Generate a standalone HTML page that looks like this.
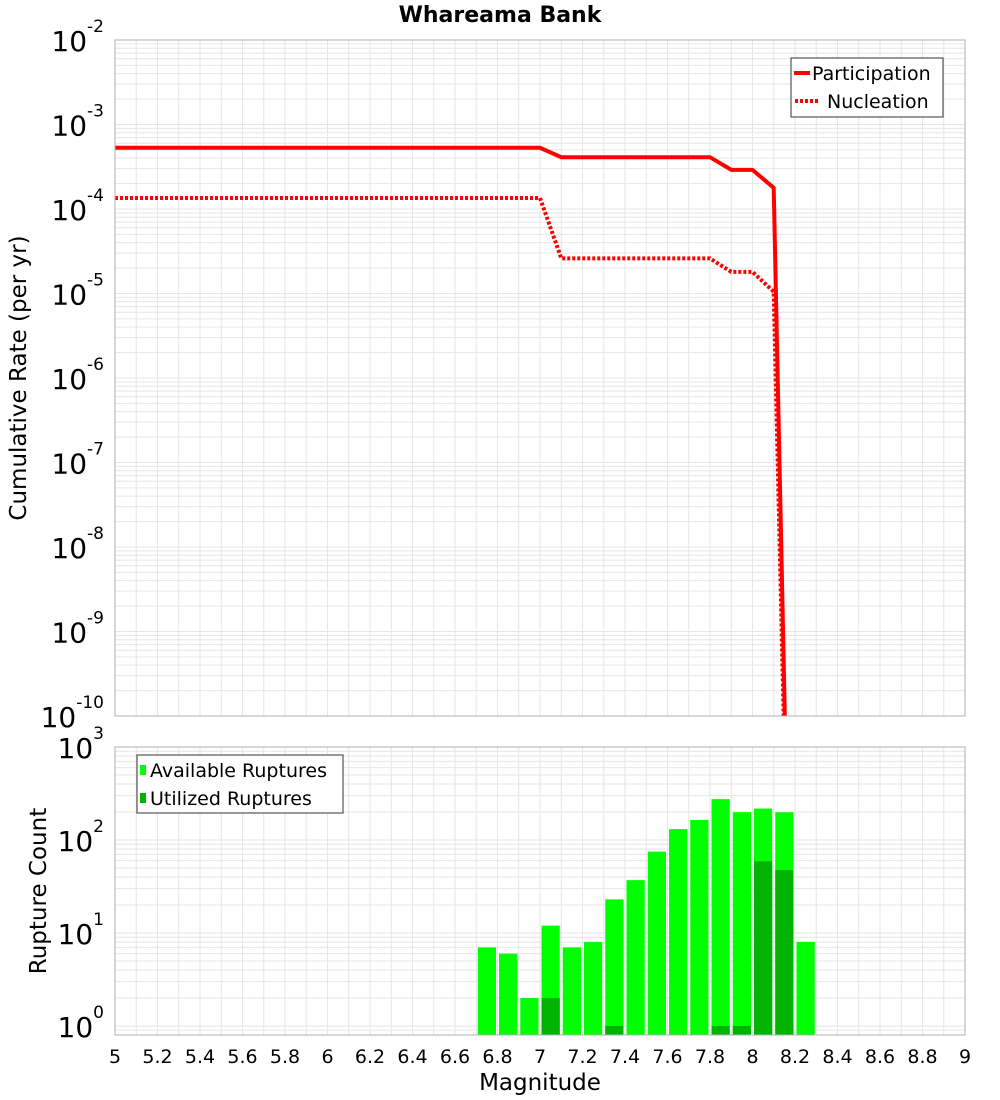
<!DOCTYPE html>
<html><head><meta charset="utf-8"><style>
html,body{margin:0;background:#fff;overflow:hidden;width:1000px;height:1100px;}
svg{display:block;font-family:"DejaVu Sans","Liberation Sans",sans-serif;}
</style></head><body>
<svg id="c" width="1000" height="1100" viewBox="0 0 1000 1100"></svg>
<script>
const mags=[5.0,5.1,5.2,5.3,5.4,5.5,5.6,5.7,5.8,5.9,6.0,6.1,6.2,6.3,6.4,6.5,6.6,6.7,6.8,6.9,7.0,7.1,7.2,7.3,7.4,7.5,7.6,7.7,7.8,7.9,8.0,8.1,8.2];
const participation=[5.3e-4,5.3e-4,5.3e-4,5.3e-4,5.3e-4,5.3e-4,5.3e-4,5.3e-4,5.3e-4,5.3e-4,5.3e-4,5.3e-4,5.3e-4,5.3e-4,5.3e-4,5.3e-4,5.3e-4,5.3e-4,5.3e-4,5.3e-4,5.3e-4,4.1e-4,4.1e-4,4.1e-4,4.1e-4,4.1e-4,4.1e-4,4.1e-4,4.1e-4,2.9e-4,2.9e-4,1.78e-4,2e-16];
const nucleation=[1.35e-4,1.35e-4,1.35e-4,1.35e-4,1.35e-4,1.35e-4,1.35e-4,1.35e-4,1.35e-4,1.35e-4,1.35e-4,1.35e-4,1.35e-4,1.35e-4,1.35e-4,1.35e-4,1.35e-4,1.35e-4,1.35e-4,1.35e-4,1.35e-4,2.6e-5,2.6e-5,2.6e-5,2.6e-5,2.6e-5,2.6e-5,2.6e-5,2.6e-5,1.8e-5,1.8e-5,1.05e-5,2e-16];
const binCenters=[6.75,6.85,6.95,7.05,7.15,7.25,7.35,7.45,7.55,7.65,7.75,7.85,7.95,8.05,8.15,8.25];
const available=[7,6,2,12,7,8,23,37,75,131,164,275,199,218,199,8];
const utilized=[0,0,0,2,0,0,1,0,0,0,0,1,1,59,47.5,0];
const xTicks=[5,5.2,5.4,5.6,5.8,6,6.2,6.4,6.6,6.8,7,7.2,7.4,7.6,7.8,8,8.2,8.4,8.6,8.8,9];
const topExps=[-2,-3,-4,-5,-6,-7,-8,-9,-10];
const botExps=[3,2,1,0];

const NS="http://www.w3.org/2000/svg";
const svg=document.getElementById('c');
function el(tag,attrs,parent,name,inter){const e=document.createElementNS(NS,tag);for(const k in attrs)e.setAttribute(k,attrs[k]);if(name){}(parent||svg).appendChild(e);return e;}
const X0=115,X1=965;
const xs=m=>X0+(m-5)/(9-5)*(X1-X0);
const T0=40,T1=716;
const yt=v=>T0+(-2-Math.log10(v))*(T1-T0)/8;
const B0=747,B1=1035;
const yb=v=>1026-Math.log10(v)*93;

const defs=el('defs',{});
const cp1=el('clipPath',{id:'cpt'},defs);el('rect',{x:X0,y:T0,width:X1-X0,height:T1-T0},cp1);
const cp2=el('clipPath',{id:'cpb'},defs);el('rect',{x:X0,y:B0,width:X1-X0,height:B1-B0},cp2);

const t=el('text',{x:500,y:22,'text-anchor':'middle','font-size':22,'font-weight':'bold'},svg,'chart-title',false);t.textContent='Whareama Bank';

function grid(y0,y1,yfun,eMin,eMax,name){
  const g=el('g',{stroke:'#e6e6e6','stroke-width':1},svg,name,false);
  for(let m=5;m<=9.001;m+=0.1){const x=xs(m);el('line',{x1:x,x2:x,y1:y0,y2:y1},g);}
  for(let e=eMin;e<eMax;e++)for(let k=1;k<10;k++){const y=yfun(k*Math.pow(10,e));if(y>=y0&&y<=y1)el('line',{x1:X0,x2:X1,y1:y,y2:y},g);}
}
grid(T0,T1,yt,-10,-2,'top-grid');
grid(B0,B1,yb,-1,3,'bottom-grid');

function line(arr,dash,name){
  let d='';arr.forEach((v,i)=>{d+=(i?'L':'M')+xs(mags[i]).toFixed(1)+','+yt(v).toFixed(1);});
  const p=el('path',{d:d,fill:'none',stroke:'#ff0000','stroke-width':4,'clip-path':'url(#cpt)'},svg,name,false);
  if(dash)p.setAttribute('stroke-dasharray','3,2');
}
line(nucleation,true,'nucleation-line');
line(participation,false,'participation-line');

const bg=el('g',{'clip-path':'url(#cpb)'},svg,'bars',false);
binCenters.forEach((c,i)=>{
  const xl=xs(c-0.05)+1.5,xr=xs(c+0.05)-1.5;
  const r=el('rect',{x:xl,y:yb(available[i]),width:xr-xl,height:B1-yb(available[i]),fill:'#00ff00'},bg);
  
  
  if(utilized[i]>0){
    const u=el('rect',{x:xl,y:yb(utilized[i]),width:xr-xl,height:B1-yb(utilized[i]),fill:'#00b300'},bg);
    
    
  }
});

el('rect',{x:X0,y:T0,width:X1-X0,height:T1-T0,fill:'none',stroke:'#b0b0b0'},svg,'top-plot-frame',false);
el('rect',{x:X0,y:B0,width:X1-X0,height:B1-B0,fill:'none',stroke:'#b0b0b0'},svg,'bottom-plot-frame',false);

function ylab(e,y,name){
  const tx=el('text',{x:104,y:y+11,'text-anchor':'end','font-size':28},svg,name,false);
  tx.textContent='10';
  const s=el('tspan',{dy:-19,'font-size':17},tx);s.textContent=String(e);
}
topExps.forEach(e=>ylab(e,yt(Math.pow(10,e)),'top-y-tick'));
botExps.forEach(e=>ylab(e,yb(Math.pow(10,e)),'bottom-y-tick'));

xTicks.forEach(m=>{const tx=el('text',{x:xs(m),y:1063,'text-anchor':'middle','font-size':19},svg,'x-tick',false);tx.textContent=String(m);});

let a=el('text',{x:540,y:1090,'text-anchor':'middle','font-size':23},svg,'x-axis-title',false);a.textContent='Magnitude';
a=el('text',{x:0,y:0,'text-anchor':'middle','font-size':23,transform:'translate(26,378) rotate(-90)'},svg,'top-y-axis-title',false);a.textContent='Cumulative Rate (per yr)';
a=el('text',{x:0,y:0,'text-anchor':'middle','font-size':23,transform:'translate(46,891) rotate(-90)'},svg,'bottom-y-axis-title',false);a.textContent='Rupture Count';

const lg=el('g',{},svg,'top-legend',false);
el('rect',{x:791,y:58,width:152,height:59,fill:'#fff',stroke:'#333'},lg);
el('line',{x1:794,x2:810,y1:73,y2:73,stroke:'#ff0000','stroke-width':4},lg);
el('line',{x1:795,x2:820,y1:101,y2:101,stroke:'#ff0000','stroke-width':4,'stroke-dasharray':'3,2'},lg);
a=el('text',{x:812,y:80,'font-size':19},lg,'legend-participation',false);a.textContent='Participation';
a=el('text',{x:827,y:108,'font-size':19},lg,'legend-nucleation',false);a.textContent='Nucleation';

const lb=el('g',{},svg,'bottom-legend',false);
el('rect',{x:137,y:755,width:206,height:58,fill:'#fff',stroke:'#333'},lb);
el('rect',{x:140,y:765,width:6,height:10,fill:'#00ff00'},lb);
el('rect',{x:140,y:793,width:6,height:10,fill:'#00b300'},lb);
a=el('text',{x:150,y:777,'font-size':19},lb,'legend-available',false);a.textContent='Available Ruptures';
a=el('text',{x:150,y:805,'font-size':19},lb,'legend-utilized',false);a.textContent='Utilized Ruptures';
</script>
</body></html>
